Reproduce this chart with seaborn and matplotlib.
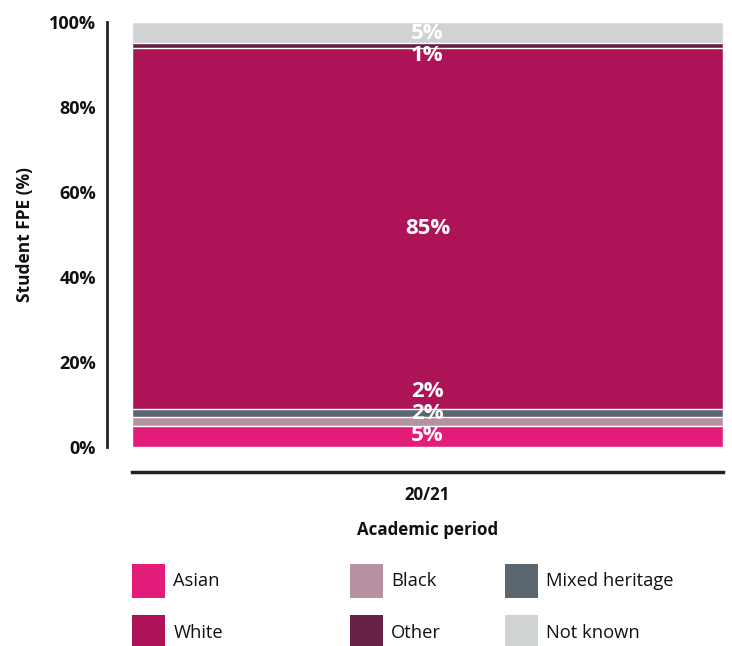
import numpy as np
import pandas as pd
import matplotlib
matplotlib.use("Agg")
import matplotlib.pyplot as plt
from matplotlib.patches import Patch
import seaborn as sns

# Student FPE share by ethnicity, academic period 20/21
period = ["20/21"]
groups = ["Asian", "Black", "Mixed heritage", "White", "Other", "Not known"]
shares = [5, 2, 2, 85, 1, 5]
colors = ["#E31C79", "#B591A1", "#5B6770", "#AC1457", "#672146", "#D0D3D4"]
y_ticks = [0, 20, 40, 60, 80, 100]
y_tick_labels = ["0%", "20%", "40%", "60%", "80%", "100%"]

sns.set_theme(style="white")
plt.rcParams["font.family"] = ["Open Sans", "DejaVu Sans"]
INK = "#111111"

fig = plt.figure(figsize=(7.32, 6.46), dpi=100)
ax = fig.add_axes([132 / 732, 1 - 447 / 646, 591 / 732, 425 / 646])

df = pd.DataFrame({"group": groups, "share": shares, "color": colors})
df["top"] = np.cumsum(df["share"])
df["bottom"] = df["top"] - df["share"]
df["period"] = period[0]

# Stack by overlaying cumulative bars, tallest first
for _, row in df.iloc[::-1].iterrows():
    sns.barplot(data=pd.DataFrame({"period": [row["period"]], "top": [row["top"]]}),
                x="period", y="top", color=row["color"], width=1.0,
                saturation=1.0, ax=ax, zorder=2)

ax.set_xlim(-0.5, 0.5)
ax.set_ylim(0, 100)
ax.set_yticks(y_ticks)
ax.set_yticklabels(y_tick_labels)
ax.tick_params(axis="y", length=0, pad=8)
ax.tick_params(axis="x", length=0, pad=10)
ax.set_ylabel("Student FPE (%)", fontsize=12.5, fontweight="bold", color=INK, labelpad=11)
ax.set_xlabel("Academic period", fontsize=12.2, fontweight="bold", color=INK, labelpad=12)

for side in ["top", "right"]:
    ax.spines[side].set_visible(False)
ax.spines["left"].set_position(("outward", 18))
ax.spines["left"].set_bounds(0, 100)
ax.spines["left"].set_linewidth(2)
ax.spines["left"].set_color("#222222")
ax.spines["bottom"].set_position(("outward", 18))
ax.spines["bottom"].set_linewidth(2.5)
ax.spines["bottom"].set_color("#222222")
ax.grid(False)

# Segment value labels, centred in each segment and nudged apart where segments are thin
centres = (df["bottom"] + df["share"] / 2).to_numpy(dtype=float)
labels = [ax.text(0, c, f"{s}%", ha="center", va="center", color="white",
                  fontsize=16, fontweight="bold", fontstretch="condensed",
                  zorder=3)
          for c, s in zip(centres, df["share"])]
fig.canvas.draw()
renderer = fig.canvas.get_renderer()
px_per_unit = ax.transData.transform((0, 1))[1] - ax.transData.transform((0, 0))[1]
gap = max(t.get_window_extent(renderer).height for t in labels) / px_per_unit + 0.3
pos = centres.copy()
for i in range(len(pos)):
    lo = gap / 2 if i == 0 else pos[i - 1] + gap
    pos[i] = max(pos[i], lo)
for i in range(len(pos) - 1, -1, -1):
    hi = 100 - gap / 2 if i == len(pos) - 1 else pos[i + 1] - gap
    pos[i] = min(pos[i], hi)
for t, p in zip(labels, pos):
    t.set_y(p)

for lbl in ax.get_yticklabels():
    lbl.set_fontweight("bold")
    lbl.set_fontsize(13)
    lbl.set_color(INK)
for lbl in ax.get_xticklabels():
    lbl.set_fontweight("bold")
    lbl.set_fontsize(12.2)
    lbl.set_color(INK)

# Legend: three columns of two entries each
cols = [(0, 3), (1, 4), (2, 5)]
col_x = [132, 350, 505]
for (i, j), x in zip(cols, col_x):
    handles = [Patch(facecolor=colors[k], edgecolor="none", label=groups[k]) for k in (i, j)]
    leg = fig.legend(handles=handles, loc="upper left",
                     bbox_to_anchor=(x / 732, 1 - 564 / 646),
                     frameon=False, fontsize=13.2, handlelength=1.8, handleheight=2.45,
                     handletextpad=0.45, labelspacing=0.95, borderpad=0, borderaxespad=0)
    for t in leg.get_texts():
        t.set_color(INK)

fig.savefig("out.png", dpi=100)
